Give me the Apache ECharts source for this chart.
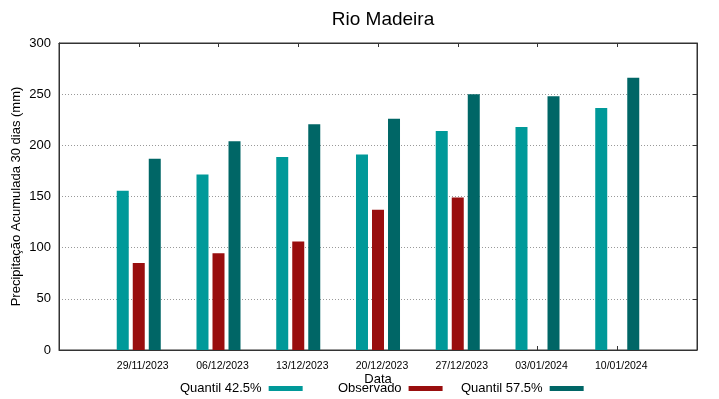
<!DOCTYPE html>
<html>
<head>
<meta charset="utf-8">
<title>Rio Madeira</title>
<script src="https://cdn.jsdelivr.net/npm/echarts@6/dist/echarts.min.js"></script>
<style>
  html, body { margin: 0; padding: 0; background: #fff; }
  #chart { width: 719px; height: 399px; }
</style>
</head>
<body>
<div id="chart"></div>
<script>
// datas das previsões (eixo x)
var dates = ['29/11/2023', '06/12/2023', '13/12/2023', '20/12/2023', '27/12/2023', '03/01/2024', '10/01/2024'];
// precipitação acumulada 30 dias (mm)
var q425 = [155.5, 171.5, 188.5, 191, 214, 218, 236.5];
var observado = [85, 94.5, 106, 137, 149, null, null];
var q575 = [187, 204, 220.5, 226, 250, 248, 266];

var yTicks = { min: 0, max: 300, step: 50 };

function pares(arr) {
  var out = [];
  for (var i = 0; i < arr.length; i++) {
    if (arr[i] !== null) out.push([i, arr[i]]);
  }
  return out;
}

var fonte = 'Liberation Sans, Arial, sans-serif';
var eixoCor = '#333';

var chart = echarts.init(document.getElementById('chart'));
chart.setOption({
  animation: false,
  title: {
    text: 'Rio Madeira',
    left: 378,
    textAlign: 'center',
    top: 5,
    textStyle: { fontFamily: fonte, fontSize: 19, fontWeight: 'normal', color: '#000' }
  },
  legend: [
    { data: ['Quantil 42.5%'], left: 180, top: 382 },
    { data: ['Observado'], left: 338, top: 382 },
    { data: ['Quantil 57.5%'], left: 461, top: 382 }
  ].map(function (l) {
    return Object.assign(l, {
      align: 'right',
      icon: 'rect',
      itemWidth: 34,
      itemHeight: 5,
      padding: 0,
      textStyle: { fontFamily: fonte, fontSize: 13, color: '#000', padding: [0, 2, 0, 0] }
    });
  }),
  grid: {
    left: 59, right: 22, top: 43, bottom: 49,
    outerBoundsMode: 'none',
    show: true, borderColor: eixoCor, borderWidth: 1
  },
  xAxis: [
    {
      type: 'value', min: -1, max: 7, interval: 1,
      name: 'Data', nameLocation: 'middle', nameGap: 23, nameMoveOverlap: false,
      nameTextStyle: { fontFamily: fonte, fontSize: 13, color: '#000' },
      axisLine: { onZero: false, lineStyle: { color: eixoCor } },
      axisTick: { inside: true, length: 4, lineStyle: { color: eixoCor } },
      splitLine: { show: false },
      axisLabel: {
        fontFamily: fonte, fontSize: 10.5, color: '#000', margin: 11,
        padding: [0, 0, 0, 8],
        formatter: function (v) { return dates[v] || ''; }
      }
    },
    {
      type: 'value', min: -1, max: 7, interval: 1, position: 'top',
      axisLine: { onZero: false, lineStyle: { color: eixoCor } },
      axisTick: { inside: true, length: 4, lineStyle: { color: eixoCor } },
      splitLine: { show: false },
      axisLabel: { show: false }
    }
  ],
  yAxis: [
    {
      type: 'value', min: yTicks.min, max: yTicks.max, interval: yTicks.step,
      name: 'Precipitação Acumulada 30 dias (mm)', nameLocation: 'middle', nameGap: 36, nameMoveOverlap: false,
      nameTextStyle: { fontFamily: fonte, fontSize: 13, color: '#000' },
      axisLine: { show: true, onZero: false, lineStyle: { color: eixoCor } },
      axisTick: { show: false },
      splitLine: { lineStyle: { color: '#999', type: [1, 2], width: 1 } },
      axisLabel: { fontFamily: fonte, fontSize: 13, color: '#000', margin: 8 }
    },
    {
      type: 'value', min: yTicks.min, max: yTicks.max, interval: yTicks.step, position: 'right',
      axisLine: { show: true, onZero: false, lineStyle: { color: eixoCor } },
      axisTick: { show: true, inside: true, length: 4, lineStyle: { color: eixoCor } },
      splitLine: { show: false },
      axisLabel: { show: false }
    }
  ],
  series: [
    {
      name: 'Quantil 42.5%', type: 'bar', barWidth: 12, barGap: '33.4%',
      itemStyle: { color: '#009999' },
      data: pares(q425)
    },
    {
      name: 'Observado', type: 'bar', barWidth: 12, barGap: '33.4%',
      itemStyle: { color: '#990e0e' },
      data: pares(observado)
    },
    {
      name: 'Quantil 57.5%', type: 'bar', barWidth: 12, barGap: '33.4%',
      itemStyle: { color: '#006666' },
      data: pares(q575)
    }
  ]
});
</script>
</body>
</html>
